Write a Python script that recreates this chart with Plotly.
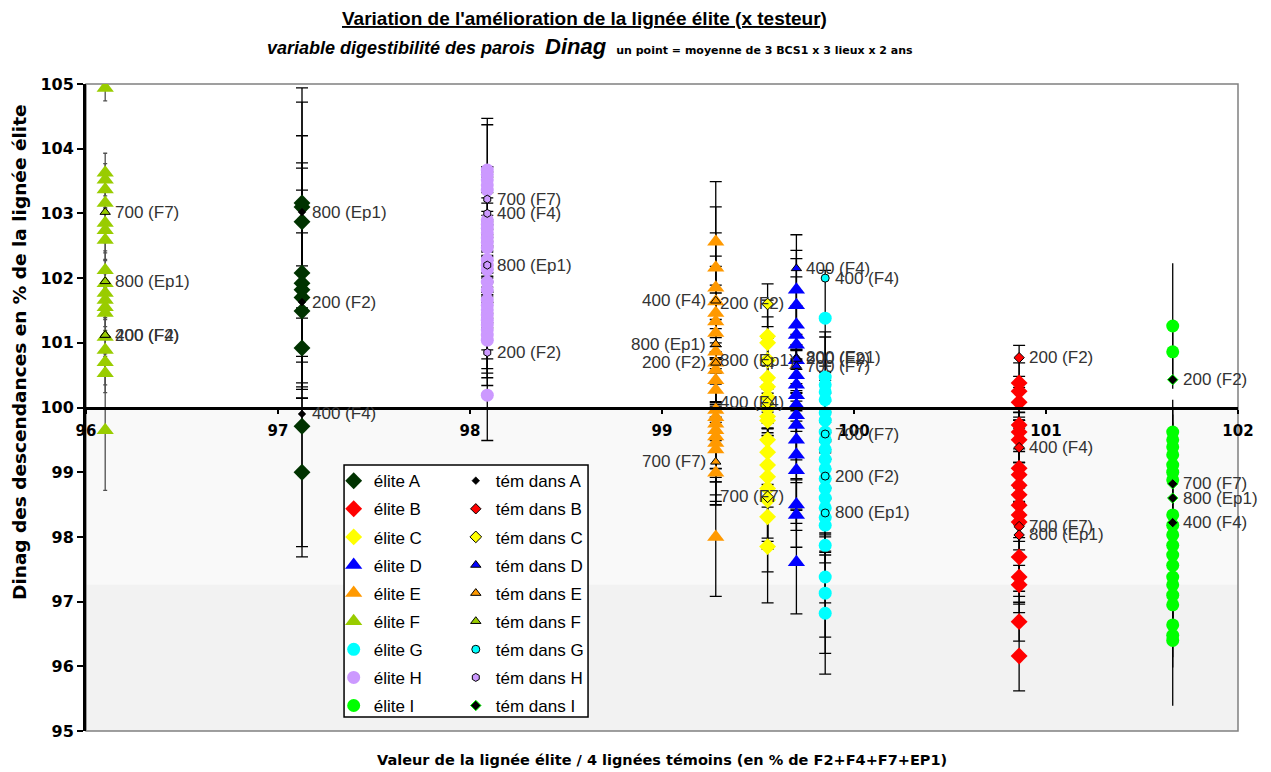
import plotly.graph_objects as go

# ---------------- data ----------------
groups = ["A", "B", "C", "D", "E", "F", "G", "H", "I"]
x_pos = [97.125, 100.86, 99.55, 99.70, 99.28, 96.10, 99.85, 98.09, 101.66]

elite_A = [103.16, 103.10, 102.87, 102.08, 101.92, 101.82, 101.70, 101.49, 100.92, 99.71, 99.00]
err_A = [1.78, 1.62, 1.33, 1.70, 1.78, 1.54, 1.00, 0.70, 0.60, 2.02, 1.15]
elite_B = [100.38, 100.25, 100.08, 99.73, 99.62, 99.50, 99.06, 98.96, 98.80, 98.65, 98.49, 98.34, 98.23, 97.69, 97.38, 97.26, 96.69, 96.16]
err_B = [0.58, 0.44, 0.40, 0.58, 0.30, 0.35, 0.30, 0.97, 1.00, 0.30, 0.30, 1.18, 0.30, 0.86, 0.30, 0.30, 0.30, 0.54]
elite_C = [101.10, 101.00, 100.73, 100.46, 100.32, 100.16, 99.99, 99.86, 99.80, 99.50, 99.31, 99.11, 98.93, 98.75, 98.57, 98.31, 97.85]
err_C = [0.81, 0.66, 0.67, 0.79, 0.75, 0.48, 0.23, 0.30, 0.50, 0.93, 0.85, 0.50, 1.00, 0.77, 1.11, 0.50, 0.87]
elite_D = [101.82, 101.58, 101.28, 101.12, 100.97, 100.73, 100.50, 100.35, 100.19, 100.04, 99.88, 99.73, 99.50, 99.27, 99.03, 98.50, 98.34, 97.61]
err_D = [0.85, 0.85, 1.02, 0.90, 0.60, 0.40, 0.40, 0.40, 0.40, 0.85, 1.00, 0.50, 0.50, 1.06, 0.60, 0.40, 0.50, 0.80]
elite_E = [102.56, 102.16, 101.85, 101.64, 101.46, 101.33, 101.15, 100.86, 100.69, 100.58, 100.42, 100.27, 99.96, 99.85, 99.75, 99.65, 99.55, 99.45, 99.35, 98.99, 98.00]
err_E = [0.93, 0.94, 0.85, 0.70, 0.72, 0.56, 0.62, 0.50, 0.60, 0.50, 0.40, 0.50, 0.90, 0.80, 1.10, 1.10, 1.05, 0.60, 0.50, 0.50, 0.92]
elite_F = [104.94, 103.63, 103.52, 103.37, 103.16, 102.85, 102.74, 102.59, 102.12, 101.92, 101.77, 101.66, 101.55, 101.46, 101.09, 100.89, 100.70, 100.53, 99.65]
err_F = [0.20, 0.30, 0.25, 0.30, 0.25, 0.30, 0.35, 0.30, 0.30, 0.35, 0.30, 0.30, 0.30, 0.35, 0.30, 0.30, 0.35, 0.30, 0.93]
elite_G = [101.38, 100.47, 100.35, 100.24, 100.12, 99.92, 99.80, 99.62, 99.50, 99.35, 99.20, 99.05, 98.90, 98.75, 98.60, 98.45, 98.30, 98.18, 97.87, 97.38, 97.13, 96.82]
err_G = [0.74, 0.70, 0.74, 0.30, 0.30, 0.30, 0.30, 0.30, 0.30, 0.30, 0.30, 0.30, 0.30, 0.72, 0.88, 0.85, 0.30, 0.40, 0.89, 0.93, 0.93, 0.94]
elite_H = [103.67, 103.60, 103.52, 103.44, 103.36, 102.90, 102.83, 102.77, 102.70, 102.62, 102.55, 102.47, 102.28, 102.20, 102.13, 101.94, 101.82, 101.66, 101.58, 101.51, 101.43, 101.35, 101.28, 101.20, 101.12, 101.04, 100.19]
err_H = [0.80, 0.77, 0.20, 0.20, 0.20, 0.82, 0.20, 0.20, 0.20, 0.20, 0.20, 0.20, 0.20, 0.20, 0.20, 0.20, 0.20, 0.20, 0.20, 0.20, 0.20, 0.60, 0.75, 0.60, 0.66, 0.70, 0.70]
elite_I = [101.26, 100.86, 99.62, 99.50, 99.39, 99.27, 99.11, 99.00, 98.88, 98.34, 98.18, 98.03, 97.87, 97.72, 97.56, 97.38, 97.26, 97.10, 96.95, 96.64, 96.48, 96.40]
err_I = [0.97, 0.50, 0.50, 0.50, 0.50, 0.50, 0.50, 0.50, 0.50, 0.50, 0.50, 0.50, 0.50, 0.50, 0.50, 0.50, 0.50, 0.50, 0.50, 0.50, 0.50, 1.01]

tem_A = [103.02, 101.63, 99.90]
lab_A = ["800 (Ep1)", "200 (F2)", "400 (F4)"]
tem_B = [100.77, 99.38, 98.16, 98.03]
lab_B = ["200 (F2)", "400 (F4)", "700 (F7)", "800 (Ep1)"]
tem_C = [101.60, 100.72, 100.07, 98.62]
lab_C = ["200 (F2)", "800 (Ep1)", "400 (F4)", "700 (F7)"]
tem_D = [102.15, 100.77, 100.75, 100.64]
lab_D = ["400 (F4)", "800 (Ep1)", "200 (F2)", "700 (F7)"]
tem_E = [101.65, 100.98, 100.69, 99.16]
lab_E = ["400 (F4)", "800 (Ep1)", "200 (F2)", "700 (F7)"]
tem_F = [103.02, 101.95, 101.12, 101.12]
lab_F = ["700 (F7)", "800 (Ep1)", "200 (F2)", "400 (F4)"]
tem_G = [102.00, 99.59, 98.94, 98.37]
lab_G = ["400 (F4)", "700 (F7)", "200 (F2)", "800 (Ep1)"]
tem_H = [103.22, 103.00, 102.20, 100.85]
lab_H = ["700 (F7)", "400 (F4)", "800 (Ep1)", "200 (F2)"]
tem_I = [100.43, 98.82, 98.60, 98.22]
lab_I = ["200 (F2)", "700 (F7)", "800 (Ep1)", "400 (F4)"]

x_ticks = [96, 97, 98, 99, 100, 101, 102]
y_ticks = [95, 96, 97, 98, 99, 100, 101, 102, 103, 104, 105]

# ---------------- styles ----------------
elite_vals = dict(A=elite_A, B=elite_B, C=elite_C, D=elite_D, E=elite_E, F=elite_F, G=elite_G, H=elite_H, I=elite_I)
elite_errs = dict(A=err_A, B=err_B, C=err_C, D=err_D, E=err_E, F=err_F, G=err_G, H=err_H, I=err_I)
tem_vals = dict(A=tem_A, B=tem_B, C=tem_C, D=tem_D, E=tem_E, F=tem_F, G=tem_G, H=tem_H, I=tem_I)
tem_labs = dict(A=lab_A, B=lab_B, C=lab_C, D=lab_D, E=lab_E, F=lab_F, G=lab_G, H=lab_H, I=lab_I)

colors = dict(A="#003300", B="#ff0000", C="#ffff00", D="#0000ff", E="#ff9900",
              F="#99cc00", G="#00ffff", H="#cc99ff", I="#00ff00")
symbols = dict(A="diamond", B="diamond", C="diamond", D="triangle-up", E="triangle-up",
               F="triangle-up", G="circle", H="circle", I="circle")
elite_size = dict(A=13, B=13, C=13, D=15, E=15, F=15, G=13, H=13, I=13)
tem_style = dict(
    A=dict(symbol="diamond", color="#000000", size=6, line=dict(color="#000000", width=0.5)),
    B=dict(symbol="diamond", color="#ff0000", size=8, line=dict(color="#000000", width=1)),
    C=dict(symbol="diamond", color="#ffff00", size=9, line=dict(color="#000000", width=1)),
    D=dict(symbol="triangle-up", color="#0000ff", size=9, line=dict(color="#000000", width=1)),
    E=dict(symbol="triangle-up", color="#ff9900", size=9, line=dict(color="#000000", width=1)),
    F=dict(symbol="triangle-up", color="#99cc00", size=9, line=dict(color="#000000", width=1)),
    G=dict(symbol="circle", color="#00ffff", size=8, line=dict(color="#000000", width=1)),
    H=dict(symbol="hexagon", color="#cc99ff", size=8, line=dict(color="#000000", width=1)),
    I=dict(symbol="diamond", color="#000000", size=8, line=dict(color="#00ff00", width=1)),
)
cap_width = dict(A=6, B=6, C=6, D=6, E=6, F=2, G=6, H=6, I=0)
err_color = dict(A="#000000", B="#000000", C="#000000", D="#000000", E="#000000",
                 F="#505050", G="#000000", H="#000000", I="#000000")
# label placement: (xanchor, xshift)
lab_place = dict(A=("left", 8), B=("left", 8), C=("left", -50), D=("left", 8), E=("right", -8),
                 F=("left", 8), G=("left", 8), H=("left", 8), I=("left", 8))

LAB_FONT = "Liberation Sans, Arial, sans-serif"
TICK_FONT = "DejaVu Sans, Verdana, sans-serif"

fig = go.Figure()

# elite series (with error bars)
for g, xp in zip(groups, x_pos):
    vals = elite_vals[g]
    fig.add_trace(go.Scatter(
        x=[xp] * len(vals), y=vals, mode="markers", name="élite " + g,
        legend="legend", legendgroup="e" + g,
        marker=dict(symbol=symbols[g], color=colors[g], size=elite_size[g], line=dict(width=0)),
        error_y=dict(type="data", array=elite_errs[g], symmetric=True, color=err_color[g],
                     thickness=1.3, width=cap_width[g]),
        hoverinfo="y",
    ))

# témoin points
for g, xp in zip(groups, x_pos):
    vals = tem_vals[g]
    st = tem_style[g]
    fig.add_trace(go.Scatter(
        x=[xp] * len(vals), y=vals, mode="markers", name="tém dans " + g,
        legend="legend2", legendgroup="t" + g,
        marker=dict(symbol=st["symbol"], color=st["color"], size=st["size"], line=st["line"]),
        hoverinfo="y",
    ))

annotations = []
for g, xp in zip(groups, x_pos):
    xa, xs = lab_place[g]
    for v, lab in zip(tem_vals[g], tem_labs[g]):
        annotations.append(dict(x=xp, y=v, xref="x", yref="y", text=lab, showarrow=False,
                                xanchor=xa, yanchor="middle", xshift=xs,
                                font=dict(family=LAB_FONT, size=17, color="#333333")))

# titles
annotations.append(dict(
    x=0.433, y=1.102, xref="paper", yref="paper", showarrow=False, xanchor="center", yanchor="middle",
    text="<u><b>Variation de l'amélioration de la lignée élite (x testeur)</b></u>",
    font=dict(family="Liberation Sans, Arial", size=19, color="#000000")))
annotations.append(dict(
    x=0.4375, y=1.0587, xref="paper", yref="paper", showarrow=False, xanchor="center", yanchor="middle",
    text="<b><i>variable digestibilité des parois  <span style='font-size:22px'>Dinag</span></i></b>"
         "  <b><span style='font-size:11px;font-family:DejaVu Sans'>un point = moyenne de 3 BCS1 x 3 lieux x 2 ans</span></b>",
    font=dict(family="Liberation Sans, Arial", size=18, color="#000000")))
annotations.append(dict(
    x=0.5, y=-0.0448, xref="paper", yref="paper", showarrow=False, xanchor="center", yanchor="middle",
    text="<b>Valeur de la lignée élite / 4 lignées témoins (en % de F2+F4+F7+EP1)</b>",
    font=dict(family=TICK_FONT, size=14.5, color="#000000")))
annotations.append(dict(
    x=-0.0573, y=0.5858, xref="paper", yref="paper", showarrow=False, xanchor="center", yanchor="middle",
    textangle=-90,
    text="<b>Dinag des descendances en % de la lignée élite</b>",
    font=dict(family=TICK_FONT, size=18.5, color="#000000")))

shapes = [
    # background shading of the lower part of the plot area
    dict(type="rect", xref="x domain", yref="y domain", x0=0, x1=1, y0=0, y1=0.5,
         fillcolor="#f9f9f9", line=dict(width=0), layer="below"),
    dict(type="rect", xref="x domain", yref="y domain", x0=0, x1=1, y0=0, y1=0.226,
         fillcolor="#f2f2f2", line=dict(width=0), layer="below"),
    # plot frame
    dict(type="rect", xref="x domain", yref="y domain", x0=0, x1=1, y0=0, y1=1,
         fillcolor="rgba(0,0,0,0)", line=dict(color="#808080", width=1.5), layer="below"),
    # legend box
    dict(type="rect", xref="paper", yref="paper", x0=0.224, x1=0.4358, y0=0.0216, y1=0.411,
         fillcolor="#ffffff", line=dict(color="#000000", width=1.5), layer="above"),
]

legend_common = dict(
    xanchor="left", yanchor="top", bgcolor="rgba(0,0,0,0)", borderwidth=0,
    font=dict(family=LAB_FONT, size=17, color="#000000"), tracegroupgap=3,
)

fig.update_layout(
    width=1271, height=772,
    margin=dict(l=86, r=33, t=84, b=41),
    paper_bgcolor="#ffffff", plot_bgcolor="#ffffff",
    showlegend=True,
    legend=dict(x=0.215, y=0.414, **legend_common),
    legend2=dict(x=0.321, y=0.414, **legend_common),
    xaxis=dict(range=[96, 102], tickvals=x_ticks, ticktext=[str(t) for t in x_ticks],
               anchor="free", position=0.5, showline=True, linecolor="#000000", linewidth=3,
               ticks="outside", ticklen=4, tickwidth=2, tickcolor="#000000",
               showgrid=False, zeroline=False, ticklabelstandoff=4,
               tickfont=dict(family=TICK_FONT, size=15, color="#000000", weight="bold")),
    yaxis=dict(range=[95, 105], tickvals=y_ticks, ticktext=[str(t) for t in y_ticks],
               showline=True, linecolor="#000000", linewidth=3,
               ticks="outside", ticklen=6, tickwidth=2, tickcolor="#000000",
               showgrid=False, zeroline=False,
               tickfont=dict(family=TICK_FONT, size=16, color="#000000", weight="bold")),
    annotations=annotations,
    shapes=shapes,
)

fig.write_html("out.html")
